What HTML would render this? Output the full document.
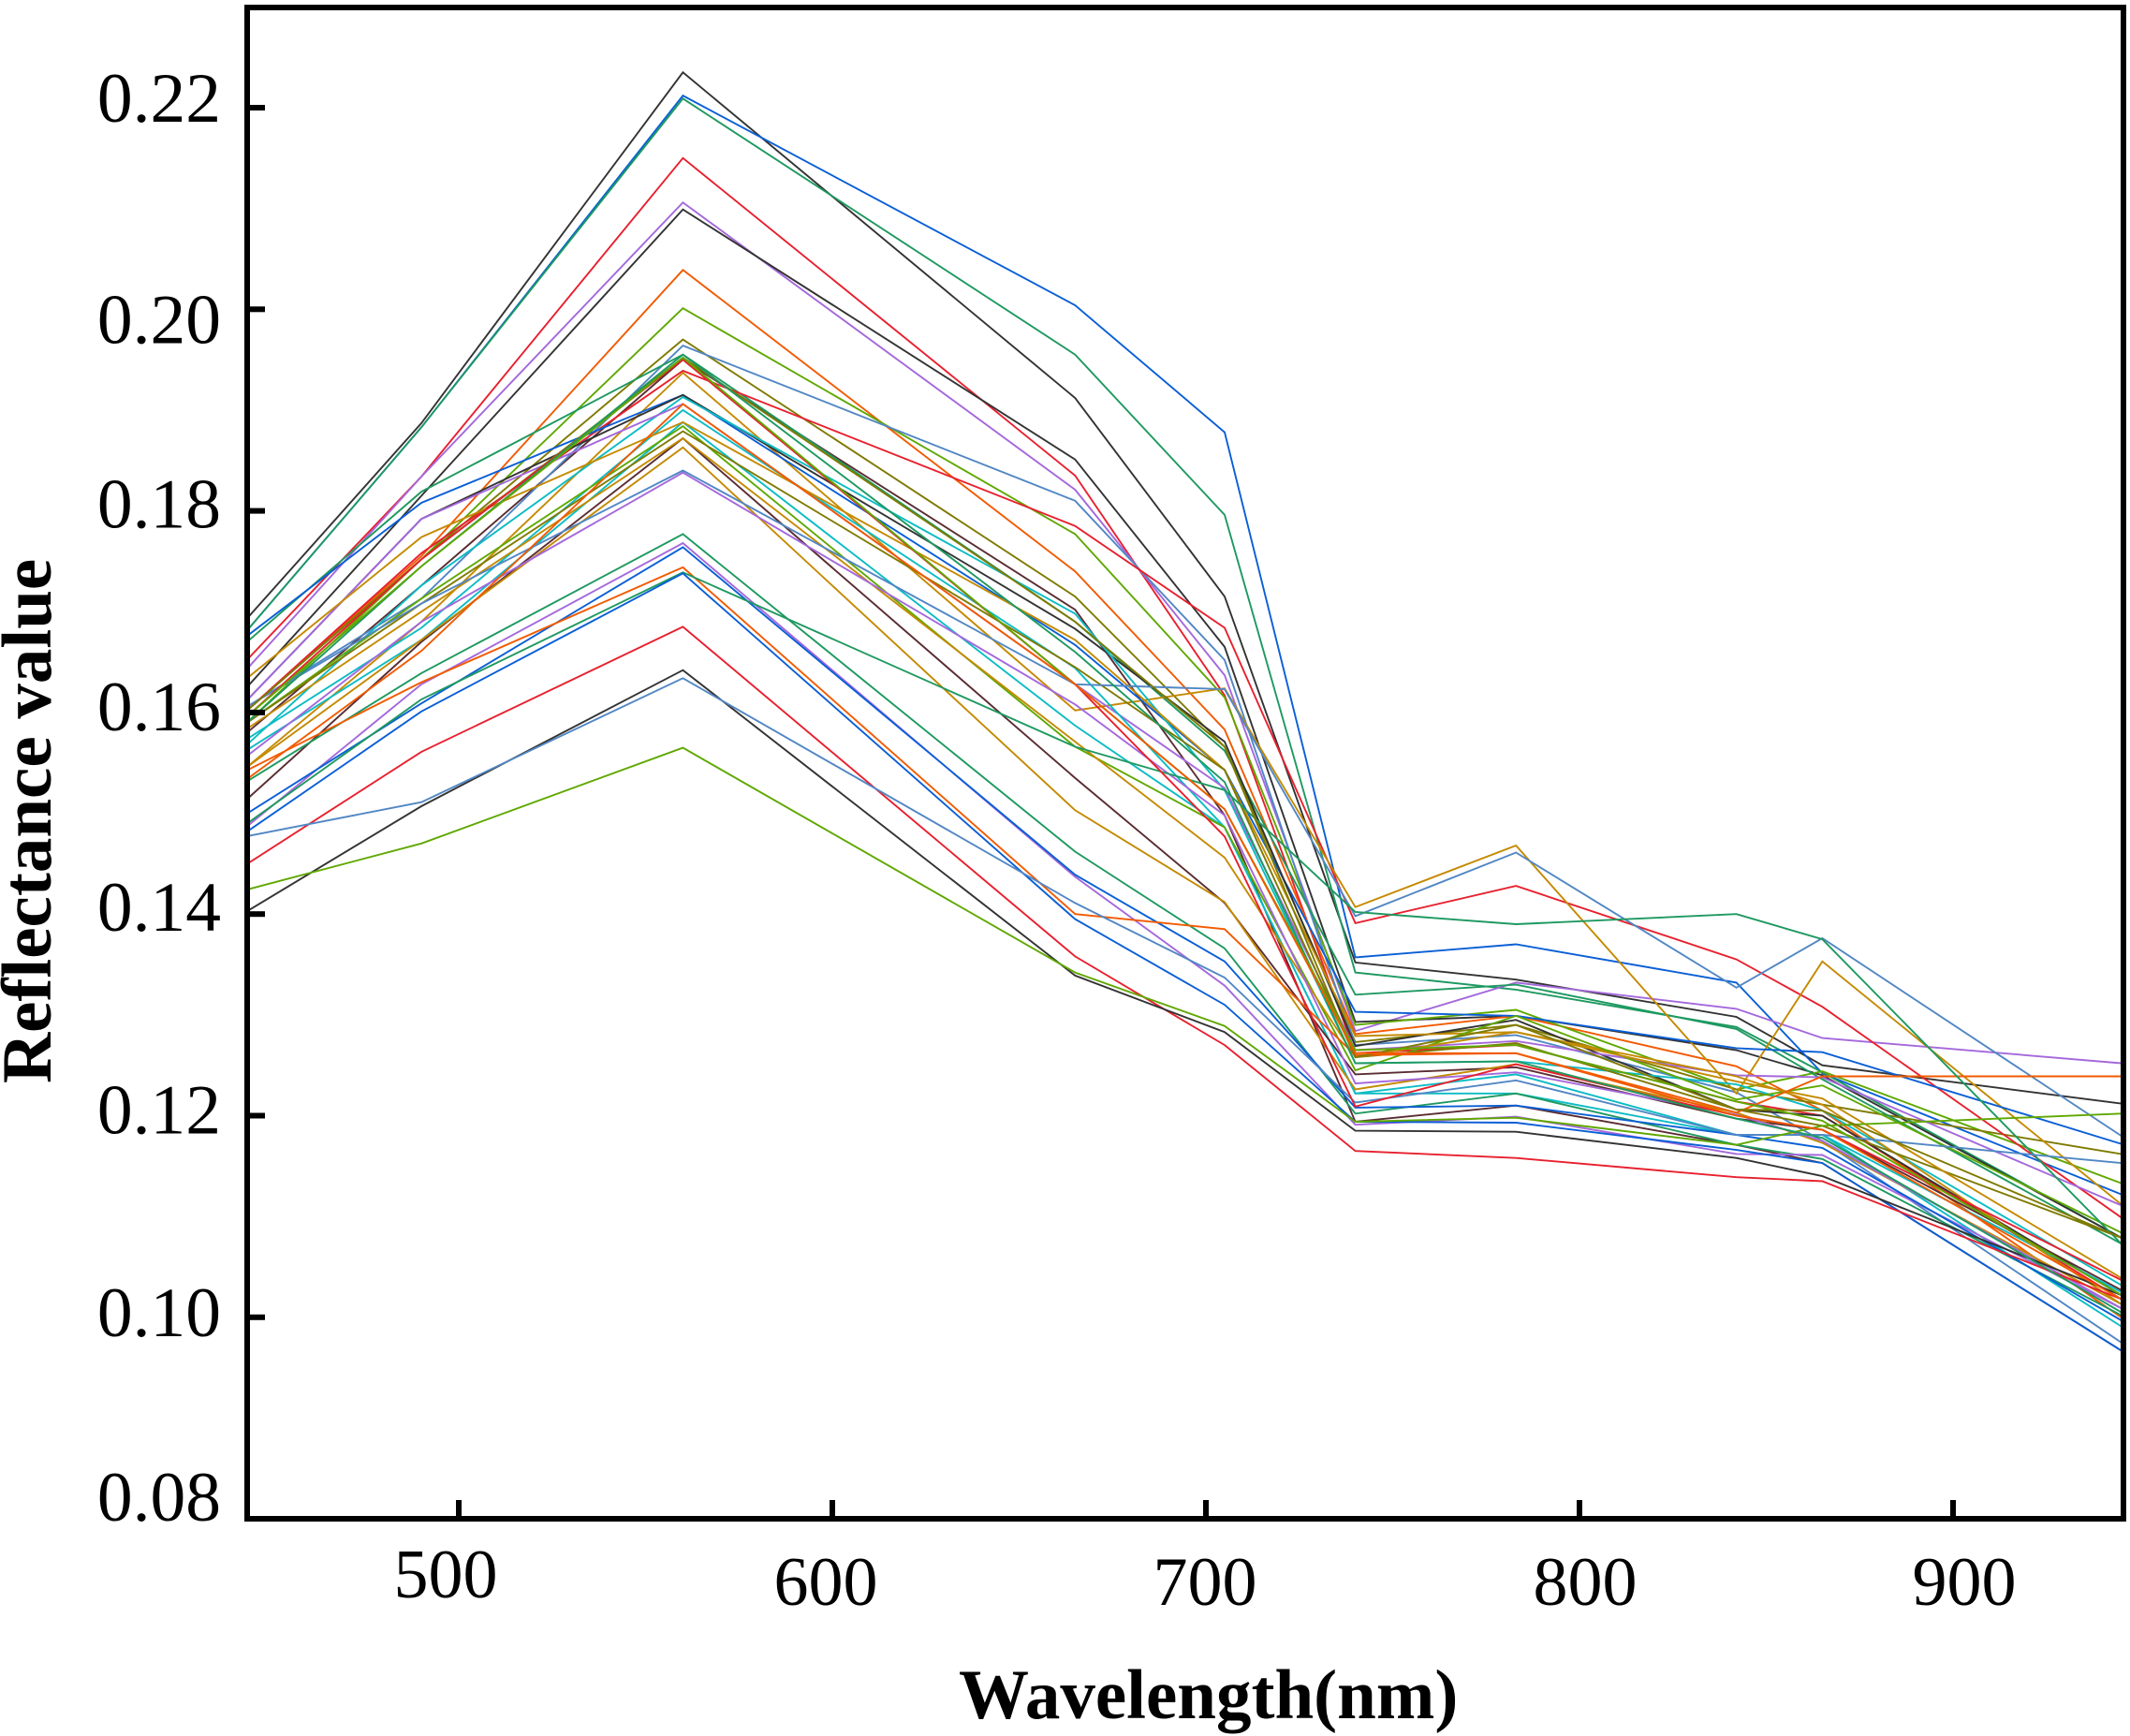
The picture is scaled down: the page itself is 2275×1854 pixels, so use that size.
<!DOCTYPE html>
<html lang="en">
<head>
<meta charset="utf-8">
<title>Reflectance value by wavelength</title>
<style>
  html, body { margin: 0; padding: 0; background: #fff; }
  svg { display: block; }
  text { font-family: "Liberation Serif", "Times New Roman", serif; fill: #000; }
  .x-label { font-size: 74px; }
  .y-label { font-size: 75.5px; }
  .axis-title { font-size: 75px; font-weight: bold; }
  .series { fill: none; stroke-width: 1.9; stroke-linejoin: miter; }
  .black { stroke: #333333; }
  .blue { stroke: #0a5fd6; }
  .green { stroke: #1e9960; }
  .red { stroke: #e8202e; }
  .purple { stroke: #a468dc; }
  .orange { stroke: #f25a00; }
  .lime { stroke: #5fa800; }
  .steel { stroke: #5187c4; }
  .brown { stroke: #5a2d32; }
  .teal { stroke: #0cbcc4; }
  .gold { stroke: #c48a00; }
  .olive { stroke: #7f7a00; }
</style>
</head>
<body>
<svg id="chart" xmlns="http://www.w3.org/2000/svg" width="2275" height="1854" viewBox="0 0 2275 1854">
  <rect x="0" y="0" width="2275" height="1854" fill="#fff"/>
  <defs><clipPath id="plot-clip"><rect x="264" y="8" width="2004" height="1614"/></clipPath></defs>
  <g id="series-layer" clip-path="url(#plot-clip)"></g>
  <g id="axis-layer"></g>
  <text class="axis-title" x="1024" y="1835">Wavelength(nm)</text>
  <text class="axis-title" transform="translate(54,1157) rotate(-90)" x="0" y="0">Reflectance value</text>
</svg>
<script>
const wavelengths = [443, 490, 560, 665, 705, 740, 783, 842, 865, 945];
const xTicks = [500, 600, 700, 800, 900];
const yTicks = [0.08, 0.10, 0.12, 0.14, 0.16, 0.18, 0.20, 0.22];

const s01 = [.1692,.1887,.2235,.1912,.1715,.1352,.1335,.1298,.1250,.1212];
const s02 = [.1680,.1883,.2212,.2004,.1878,.1357,.1370,.1332,.1242,.1122];
const s03 = [.1680,.1883,.2209,.1955,.1796,.1342,.1325,.1288,.1243,.1079];
const s04 = [.1651,.1834,.2150,.1835,.1617,.1262,.1270,.1214,.1200,.1018];
const s05 = [.1642,.1834,.2106,.1821,.1637,.1284,.1332,.1306,.1277,.1252];
const s06 = [.1624,.1815,.2099,.1851,.1665,.1293,.1299,.1265,.1240,.1079];
const s07 = [.1601,.1755,.2039,.1740,.1583,.1281,.1299,.1249,.1205,.1000];
const s08 = [.1589,.1752,.2001,.1777,.1615,.1290,.1305,.1226,.1244,.1133];
const s09 = [.1601,.1752,.1970,.1715,.1566,.1273,.1290,.1226,.1211,.1162];
const s10 = [.1605,.1713,.1964,.1810,.1652,.1270,.1280,.1223,.1175,.0975];
const s11 = [.1669,.1819,.1955,.1690,.1562,.1320,.1330,.1286,.1236,.1073];
const s12 = [.1601,.1758,.1939,.1785,.1684,.1391,.1428,.1355,.1308,.1099];
const s13 = [.1545,.1690,.1937,.1602,.1624,.1407,.1468,.1222,.1353,.1112];
const s14 = [.1675,.1808,.1915,.1667,.1543,.1303,.1299,.1267,.1263,.1172];
const s15 = [.1611,.1792,.1915,.1683,.1571,.1269,.1295,.1206,.1200,.1022];
const s16 = [.1567,.1726,.1913,.1698,.1523,.1252,.1254,.1231,.1205,.1032];
const s17 = [.1611,.1792,.1906,.1628,.1525,.1265,.1274,.1240,.1238,.1111];
const s18 = [.1573,.1684,.1900,.1644,.1486,.1222,.1222,.1181,.1181,.0991];
const s19 = [.1562,.1672,.1888,.1587,.1486,.1222,.1241,.1181,.1181,.1025];
const s20 = [.1633,.1774,.1888,.1672,.1543,.1279,.1283,.1239,.1211,.1013];
const s21 = [.1589,.1713,.1884,.1566,.1486,.1245,.1299,.1216,.1230,.1084];
const s22 = [.1589,.1708,.1879,.1645,.1543,.1258,.1272,.1206,.1190,.1079];
const s23 = [.1513,.1670,.1872,.1535,.1411,.1241,.1248,.1197,.1186,.1027];
const s24 = [.1583,.1700,.1872,.1571,.1456,.1258,.1283,.1234,.1217,.1039];
const s25 = [.1545,.1672,.1863,.1503,.1412,.1226,.1251,.1203,.1173,.1013];
const s26 = [.1605,.1708,.1840,.1628,.1623,.1398,.1461,.1327,.1376,.1180];
const s27 = [.1556,.1690,.1838,.1608,.1498,.1232,.1243,.1201,.1175,.1009];
const s28 = [.1531,.1639,.1777,.1462,.1366,.1202,.1222,.1171,.1157,.1002];
const s29 = [.1486,.1628,.1768,.1437,.1329,.1191,.1199,.1162,.1161,.1009];
const s30 = [.1499,.1609,.1764,.1439,.1353,.1208,.1210,.1181,.1168,.0997];
const s31 = [.1542,.1630,.1744,.1400,.1385,.1260,.1262,.1203,.1239,.1239];
const s32 = [.1489,.1613,.1739,.1566,.1523,.1402,.1390,.1400,.1375,.1073];
const s33 = [.1481,.1601,.1738,.1395,.1310,.1194,.1193,.1166,.1153,.0967];
const s34 = [.1449,.1561,.1685,.1358,.1270,.1165,.1158,.1139,.1135,.1018];
const s35 = [.1402,.1507,.1642,.1339,.1283,.1185,.1184,.1158,.1140,.1022];
const s36 = [.1477,.1511,.1634,.1411,.1337,.1213,.1235,.1181,.1181,.1153];
const s37 = [.1424,.1470,.1565,.1342,.1289,.1194,.1198,.1171,.1190,.1202];
const s38 = [.1601,.1752,.1952,.1690,.1566,.1258,.1290,.1206,.1205,.1079];
const s39 = [.1595,.1752,.1950,.1628,.1477,.1209,.1251,.1200,.1186,.1037];
const s40 = [.1579,.1726,.1950,.1702,.1498,.1194,.1210,.1171,.1153,.0967];
const s41 = [.1589,.1745,.1955,.1660,.1531,.1252,.1254,.1197,.1178,.1005];
const s42 = [.1595,.1745,.1952,.1628,.1504,.1265,.1270,.1214,.1195,.1022];
const s43 = [.1533,.1661,.1906,.1628,.1504,.1262,.1262,.1200,.1186,.1018];

const seriesValues = [s40,s01,s02,s03,s04,s05,s06,s07,s08,s09,s10,s11,s12,s13,s14,s15,s16,s17,s18,s19,s20,s21,s22,s23,s24,s25,s26,s27,s28,s29,s30,s31,s32,s33,s34,s35,s36,s37,s38,s39,s41,s42,s43];
const seriesGroups = ['brown','black','blue','green','red','purple','black','orange','lime','olive','steel','green','red','gold','blue','black','teal','purple','teal','teal','gold','lime','olive','brown','gold','gold','steel','purple','green','purple','blue','orange','green','blue','red','black','steel','lime','olive','red','green','lime','orange'];

const SVG_NS = 'http://www.w3.org/2000/svg';

function xScale(nm) {
  return 490 + (nm - 500) * 3.99;
}
function yScale(v) {
  return 115 + (0.22 - v) * 10765;
}

function drawSeries() {
  const layer = document.getElementById('series-layer');
  seriesValues.forEach(function (values, i) {
    const line = document.createElementNS(SVG_NS, 'polyline');
    
    
    line.setAttribute('class', 'series ' + seriesGroups[i]);
    line.setAttribute('points', values.map(function (v, k) {
      return xScale(wavelengths[k]).toFixed(1) + ',' + yScale(v).toFixed(1);
    }).join(' '));
    layer.appendChild(line);
  });
}

function drawRect(parent, name, x, y, w, h) {
  const r = document.createElementNS(SVG_NS, 'rect');
  
  
  r.setAttribute('x', x);
  r.setAttribute('y', y);
  r.setAttribute('width', w);
  r.setAttribute('height', h);
  r.setAttribute('fill', '#000');
  parent.appendChild(r);
}

function drawAxes() {
  const layer = document.getElementById('axis-layer');
  drawRect(layer, 'plot-frame-top', 261, 5, 2010, 6);
  drawRect(layer, 'plot-frame-right', 2265, 5, 6, 1620);
  drawRect(layer, 'x-axis-line', 261, 1619, 2010, 6);
  drawRect(layer, 'y-axis-line', 261, 5, 6, 1620);

  const xLabelNudge = [-14, -7, -1, 6, 12];
  const xLabelBaseline = [1706, 1714, 1714, 1714, 1714];
  xTicks.forEach(function (t, i) {
    const x = xScale(t);
    drawRect(layer, 'x-tick-mark', x - 3, 1602, 6, 18);
    const label = document.createElementNS(SVG_NS, 'text');
    
    
    label.setAttribute('class', 'x-label');
    label.setAttribute('text-anchor', 'middle');
    label.setAttribute('x', x + xLabelNudge[i]);
    label.setAttribute('y', xLabelBaseline[i]);
    label.textContent = String(t);
    layer.appendChild(label);
  });

  const yLabelNudge = [-16, 2, 1, 0, 1, 0, 18, -3];
  yTicks.forEach(function (t, i) {
    const y = yScale(t);
    if (i > 0) {
      drawRect(layer, 'y-tick-mark', 266, y - 3, 17, 6);
    }
    const label = document.createElementNS(SVG_NS, 'text');
    
    
    label.setAttribute('class', 'y-label');
    label.setAttribute('text-anchor', 'end');
    label.setAttribute('x', 236);
    label.setAttribute('y', y + 18 + yLabelNudge[i]);
    label.textContent = t.toFixed(2);
    layer.appendChild(label);
  });
}

drawSeries();
drawAxes();
</script>
</body>
</html>
